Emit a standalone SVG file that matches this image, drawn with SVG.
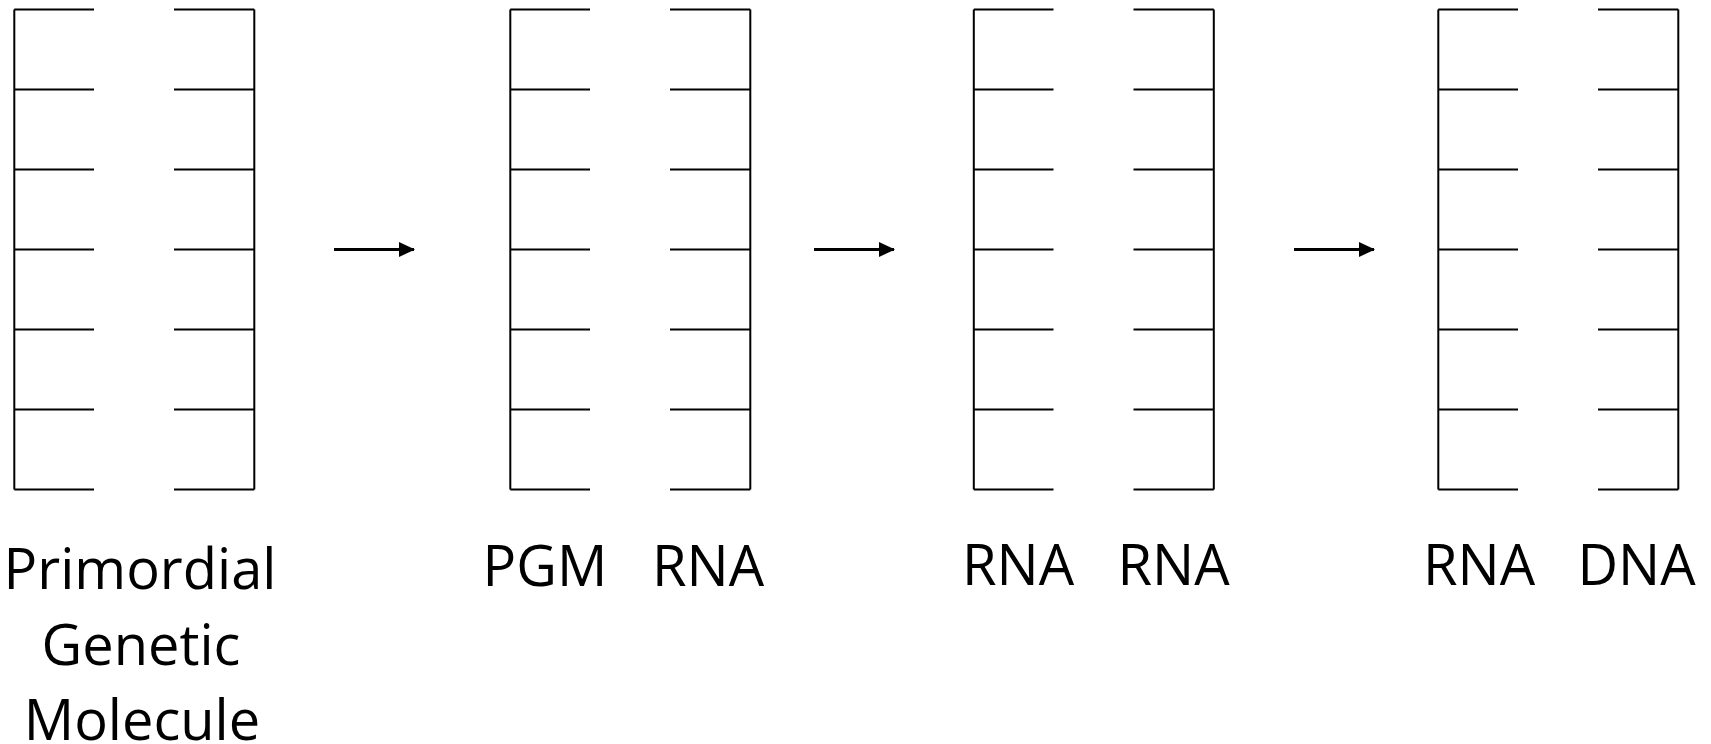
<svg xmlns="http://www.w3.org/2000/svg" width="1711" height="744" viewBox="0 0 1711 744">
<style>
.s{fill:none;stroke:#000;stroke-width:2}
.c{stroke:#000;stroke-width:3}
.t{font-family:"Open Sans","Noto Sans","Liberation Sans",sans-serif;font-size:56px;fill:#000;text-anchor:middle}
</style>
<defs>
<marker id="ah" markerWidth="16" markerHeight="15" refX="15" refY="7.5" orient="auto" markerUnits="userSpaceOnUse">
<path d="M0,0 L16,7.5 L0,15 Z" fill="#000"/>
</marker>
<g id="strandL">
<path class="s" d="M14.3,9.5 V489.5 M14.3,9.5 H94 M14.3,89.5 H94 M14.3,169.5 H94 M14.3,249.5 H94 M14.3,329.5 H94 M14.3,409.5 H94 M14.3,489.5 H94"/>
</g>
<g id="strandR">
<path class="s" d="M254.3,9.5 V489.5 M174,9.5 H254.3 M174,89.5 H254.3 M174,169.5 H254.3 M174,249.5 H254.3 M174,329.5 H254.3 M174,409.5 H254.3 M174,489.5 H254.3"/>
</g>
</defs>
<g id="node-pgm">
<use href="#strandL"/><use href="#strandR"/>
<text class="t" x="140" y="589">Primordial</text>
<text class="t" x="141" y="665">Genetic</text>
<text class="t" x="142" y="740">Molecule</text>
</g>
<g id="node-pgm-rna" transform="translate(496,0)">
<use href="#strandL"/><use href="#strandR"/>
<text class="t" x="49" y="586">PGM</text>
<text class="t" x="212" y="586">RNA</text>
</g>
<g id="node-rna-rna" transform="translate(959.5,0)">
<use href="#strandL"/><use href="#strandR"/>
<text class="t" x="58.5" y="585">RNA</text>
<text class="t" x="214" y="585">RNA</text>
</g>
<g id="node-rna-dna" transform="translate(1424,0)">
<use href="#strandL"/><use href="#strandR"/>
<text class="t" x="55" y="585">RNA</text>
<text class="t" x="212.5" y="585">DNA</text>
</g>
<g id="connectors">
<line class="c" x1="334" y1="249.5" x2="414" y2="249.5" marker-end="url(#ah)"/>
<line class="c" x1="814" y1="249.5" x2="894" y2="249.5" marker-end="url(#ah)"/>
<line class="c" x1="1294" y1="249.5" x2="1374" y2="249.5" marker-end="url(#ah)"/>
</g>
</svg>
